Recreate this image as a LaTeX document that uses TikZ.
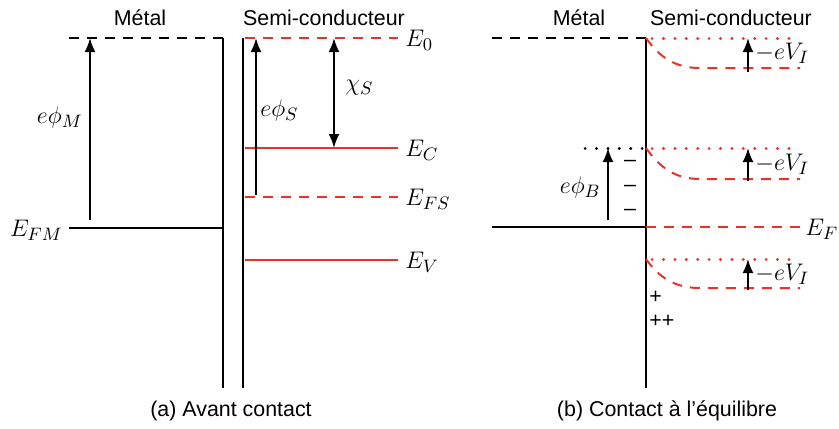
\documentclass[tikz,border=0pt]{standalone}
\usepackage{fontspec}
\setmainfont{Liberation Sans}
\usetikzlibrary{arrows.meta}
\definecolor{bandred}{RGB}{235,50,38}
\tikzset{
	noir/.style={black, line width=1pt},
	rouge/.style={bandred, line width=1pt},
	tirets/.style={dash pattern=on 5pt off 4pt},
	pointille/.style={line cap=round, dash pattern=on 0.1pt off 5.6pt, line width=1.5pt},
	fleche/.style={black, line width=1pt, -{Latex[length=7pt,width=5.5pt]}},
	etiq/.style={font=\fontsize{13}{15}\selectfont, inner sep=1pt},
	titre/.style={font=\fontsize{10.7}{13}\selectfont}
}
\begin{document}
\begin{tikzpicture}[x=0.5pt, y=-0.5pt]
		\useasboundingbox (0,0) rectangle (839,428);

		% (a) avant contact
		\node[titre] (metA) at (140,18) {Métal};
		\node[titre] (scA) at (324,18) {Semi-conducteur};

		\coordinate (videMg) at (69,38);
		\coordinate (videMd) at (223,38);
		\coordinate (interM) at (223,388);
		\coordinate (haut) at (243,38);
		\coordinate (interS) at (243,388);
		\coordinate (fmG) at (69,228);
		\coordinate (fmD) at (223,228);

		\draw[noir, tirets] (videMg) -- (videMd);
		\draw[noir] (videMd) -- (interM);
		\draw[noir] (haut) -- (interS);
		\draw[noir] (fmG) -- (fmD);
		\node[etiq, anchor=east] (efm) at (65,230) {$E_{FM}$};

		\coordinate (phiMbas) at (90,220);
		\coordinate (phiMhaut) at (90,38);
		\draw[fleche] (phiMbas) -- (phiMhaut);
		\node[etiq, anchor=east] (phiM) at (85,117) {$e\phi_M$};

		\node[etiq, anchor=west] (e0) at (403,40) {$E_0$};
		\node[etiq, anchor=west] (ec) at (403,150) {$E_C$};
		\node[etiq, anchor=west] (efs) at (403,199) {$E_{FS}$};
		\node[etiq, anchor=west] (ev) at (403,262) {$E_V$};
		\coordinate (e0g) at (245,38);
		\coordinate (e0d) at (398,38);
		\coordinate (ecg) at (245,148);
		\coordinate (ecd) at (398,148);
		\coordinate (efsg) at (245,197);
		\coordinate (efsd) at (398,197);
		\coordinate (evg) at (245,260);
		\coordinate (evd) at (398,260);
		\draw[rouge, tirets] (e0g) -- (e0d);
		\draw[rouge] (ecg) -- (ecd);
		\draw[rouge, tirets] (efsg) -- (efsd);
		\draw[rouge] (evg) -- (evd);

		\coordinate (phiSbas) at (256,195);
		\coordinate (phiShaut) at (256,38);
		\draw[fleche] (phiSbas) -- (phiShaut);
		\node[etiq, anchor=west] (phiS) at (258,110) {$e\phi_S$};

		\coordinate (chiH) at (334,38);
		\coordinate (chiB) at (334,148);
		\draw[fleche, {Latex[length=7pt,width=5.5pt]}-{Latex[length=7pt,width=5.5pt]}] (chiH) -- (chiB);
		\node[etiq, anchor=west] (chi) at (343,88) {$\chi_S$};

		\node[titre] (capA) at (231,411) {(a) Avant contact};

		% (b) contact a l'equilibre
		\node[titre] (metB) at (579,18) {Métal};
		\node[titre] (scB) at (731,18) {Semi-conducteur};

		\coordinate (videBg) at (492,38);
		\coordinate (jonc) at (646,38);
		\coordinate (joncBas) at (646,388);
		\coordinate (efG) at (492,227);
		\coordinate (efM) at (646,227);
		\coordinate (efD) at (800,227);
		\draw[noir, tirets] (videBg) -- (jonc);
		\draw[noir] (jonc) -- (joncBas);
		\draw[noir] (efG) -- (efM);
		\draw[rouge, tirets] (efM) -- (efD);
		\node[etiq, anchor=west] (ef) at (803,229) {$E_F$};

		% bandes courbees
		\coordinate (b1) at (646,38);
		\coordinate (b2) at (646,148);
		\coordinate (b3) at (646,259);
		\draw[bandred, pointille] (652,38) -- (800,38);
		\draw[rouge, tirets] (b1) to[out=-55, in=180] (700,68) -- (800,68);
		\draw[bandred, pointille] (652,148) -- (800,148);
		\draw[rouge, tirets] (b2) to[out=-55, in=180] (700,179) -- (800,179);
		\draw[bandred, pointille] (652,259) -- (800,259);
		\draw[rouge, tirets] (b3) to[out=-55, in=180] (700,288) -- (800,288);

		\coordinate (v1b) at (748,72);
		\coordinate (v1h) at (748,38);
		\coordinate (v2b) at (748,181);
		\coordinate (v2h) at (748,148);
		\coordinate (v3b) at (748,290);
		\coordinate (v3h) at (748,259);
		\draw[fleche] (v1b) -- (v1h);
		\draw[fleche] (v2b) -- (v2h);
		\draw[fleche] (v3b) -- (v3h);
		\node[etiq, anchor=west] (vi1) at (753,53) {$-eV_I$};
		\node[etiq, anchor=west] (vi2) at (753,164) {$-eV_I$};
		\node[etiq, anchor=west] (vi3) at (753,274) {$-eV_I$};

		% barriere
		\coordinate (barG) at (585,148);
		\coordinate (barD) at (644,148);
		\draw[black, pointille] (barG) -- (barD);
		\coordinate (phiBbas) at (608,220);
		\coordinate (phiBhaut) at (608,148);
		\draw[fleche] (phiBbas) -- (phiBhaut);
		\node[etiq, anchor=east] (phiB) at (603,187) {$e\phi_B$};

		\node[titre] (moins1) at (630,163) {–};
		\node[titre] (moins2) at (630,188) {–};
		\node[titre] (moins3) at (630,212) {–};
		\node[titre, anchor=west, inner sep=0pt] (plus1) at (649,297) {+};
		\node[titre, anchor=west, inner sep=0pt] (plus2) at (649,321) {++};

		\node[titre] (capB) at (667,411) {(b) Contact à l’équilibre};
	\end{tikzpicture}
\end{document}
